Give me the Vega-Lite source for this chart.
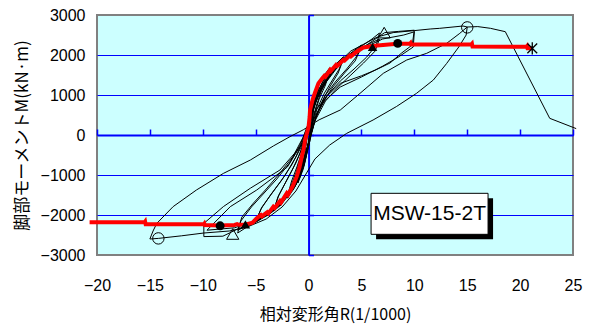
{
"$schema":"https://vega.github.io/schema/vega-lite/v6.json",
"width":476,"height":240,
"autosize":{"type":"none"},
"padding":{"left":97,"top":15,"right":18,"bottom":77},
"background":"white",
"config":{"view":{"fill":"#CCFFFF","stroke":"#808080","strokeWidth":2},
 "axis":{"labelFont":"Liberation Sans","labelFontSize":16,"labelColor":"#000","titleColor":"#000","titleFontWeight":"normal"}},
"resolve":{"axis":{"x":"independent","y":"independent"}},
"datasets":{
"loop":[
{"i":1,"x":0,"y":0},{"i":2,"x":0.1,"y":250},{"i":3,"x":0.3,"y":600},{"i":4,"x":0.5,"y":850},{"i":5,"x":0.4,"y":600},{"i":6,"x":0.2,"y":250},{"i":7,"x":0.05,"y":-50},{"i":8,"x":-0.1,"y":-300},{"i":9,"x":-0.3,"y":-600},{"i":10,"x":-0.5,"y":-800},
{"i":11,"x":-0.4,"y":-550},{"i":12,"x":-0.2,"y":-200},{"i":13,"x":-0.05,"y":100},{"i":14,"x":0.15,"y":450},{"i":15,"x":0.5,"y":950},{"i":16,"x":1,"y":1300},{"i":17,"x":0.8,"y":1000},{"i":18,"x":0.5,"y":650},{"i":19,"x":0.25,"y":250},{"i":20,"x":0.05,"y":-150},
{"i":21,"x":-0.2,"y":-500},{"i":22,"x":-0.5,"y":-850},{"i":23,"x":-1,"y":-1200},{"i":24,"x":-0.8,"y":-900},{"i":25,"x":-0.5,"y":-500},{"i":26,"x":-0.25,"y":-150},{"i":27,"x":0,"y":200},{"i":28,"x":0.3,"y":650},{"i":29,"x":0.7,"y":1100},{"i":30,"x":1.2,"y":1400},
{"i":31,"x":2,"y":1680},{"i":32,"x":1.7,"y":1400},{"i":33,"x":1.2,"y":1100},{"i":34,"x":0.7,"y":700},{"i":35,"x":0.3,"y":250},{"i":36,"x":0.05,"y":-150},{"i":37,"x":-0.3,"y":-600},{"i":38,"x":-0.8,"y":-1050},{"i":39,"x":-1.4,"y":-1350},{"i":40,"x":-2,"y":-1580},
{"i":41,"x":-1.7,"y":-1300},{"i":42,"x":-1.2,"y":-950},{"i":43,"x":-0.7,"y":-550},{"i":44,"x":-0.3,"y":-150},{"i":45,"x":0,"y":250},{"i":46,"x":0.4,"y":750},{"i":47,"x":1,"y":1150},{"i":48,"x":1.5,"y":1400},{"i":49,"x":2,"y":1620},{"i":50,"x":1.6,"y":1250},
{"i":51,"x":1,"y":900},{"i":52,"x":0.5,"y":450},{"i":53,"x":0.15,"y":0},{"i":54,"x":-0.2,"y":-450},{"i":55,"x":-0.7,"y":-950},{"i":56,"x":-1.3,"y":-1300},{"i":57,"x":-2,"y":-1530},{"i":58,"x":-1.6,"y":-1150},{"i":59,"x":-1.1,"y":-800},{"i":60,"x":-0.6,"y":-400},
{"i":61,"x":-0.2,"y":0},{"i":62,"x":0.2,"y":500},{"i":63,"x":0.8,"y":1050},{"i":64,"x":1.5,"y":1420},{"i":65,"x":2.3,"y":1700},{"i":66,"x":3.3,"y":1960},{"i":67,"x":2.9,"y":1650},{"i":68,"x":2.2,"y":1350},{"i":69,"x":1.5,"y":1050},{"i":70,"x":0.8,"y":650},
{"i":71,"x":0.3,"y":200},{"i":72,"x":0,"y":-200},{"i":73,"x":-0.4,"y":-650},{"i":74,"x":-1,"y":-1100},{"i":75,"x":-1.8,"y":-1450},{"i":76,"x":-2.5,"y":-1700},{"i":77,"x":-3.3,"y":-1900},{"i":78,"x":-2.9,"y":-1550},{"i":79,"x":-2.2,"y":-1200},{"i":80,"x":-1.5,"y":-850},
{"i":81,"x":-0.8,"y":-450},{"i":82,"x":-0.3,"y":-50},{"i":83,"x":0.1,"y":350},{"i":84,"x":0.6,"y":850},{"i":85,"x":1.3,"y":1250},{"i":86,"x":2.2,"y":1600},{"i":87,"x":3.3,"y":1900},{"i":88,"x":2.8,"y":1550},{"i":89,"x":2,"y":1200},{"i":90,"x":1.3,"y":850},
{"i":91,"x":0.7,"y":450},{"i":92,"x":0.2,"y":0},{"i":93,"x":-0.2,"y":-400},{"i":94,"x":-0.8,"y":-900},{"i":95,"x":-1.6,"y":-1350},{"i":96,"x":-2.5,"y":-1680},{"i":97,"x":-3.3,"y":-1870},{"i":98,"x":-2.8,"y":-1500},{"i":99,"x":-2,"y":-1100},{"i":100,"x":-1.2,"y":-700},
{"i":101,"x":-0.5,"y":-250},{"i":102,"x":0,"y":200},{"i":103,"x":0.5,"y":700},{"i":104,"x":1.2,"y":1200},{"i":105,"x":2.2,"y":1600},{"i":106,"x":3.5,"y":1950},{"i":107,"x":5,"y":2250},{"i":108,"x":4.5,"y":1950},{"i":109,"x":3.6,"y":1650},{"i":110,"x":2.6,"y":1350},
{"i":111,"x":1.6,"y":1000},{"i":112,"x":0.8,"y":550},{"i":113,"x":0.3,"y":50},{"i":114,"x":-0.1,"y":-400},{"i":115,"x":-0.7,"y":-900},{"i":116,"x":-1.5,"y":-1350},{"i":117,"x":-2.6,"y":-1750},{"i":118,"x":-3.8,"y":-2000},{"i":119,"x":-5,"y":-2170},{"i":120,"x":-4.5,"y":-1850},
{"i":121,"x":-3.6,"y":-1500},{"i":122,"x":-2.6,"y":-1150},{"i":123,"x":-1.6,"y":-750},{"i":124,"x":-0.7,"y":-300},{"i":125,"x":-0.1,"y":150},{"i":126,"x":0.4,"y":650},{"i":127,"x":1.2,"y":1150},{"i":128,"x":2.3,"y":1600},{"i":129,"x":3.6,"y":1950},{"i":130,"x":5,"y":2200},
{"i":131,"x":4.4,"y":1850},{"i":132,"x":3.4,"y":1550},{"i":133,"x":2.3,"y":1200},{"i":134,"x":1.3,"y":800},{"i":135,"x":0.5,"y":300},{"i":136,"x":0,"y":-200},{"i":137,"x":-0.6,"y":-800},{"i":138,"x":-1.5,"y":-1300},{"i":139,"x":-2.7,"y":-1750},{"i":140,"x":-3.9,"y":-2000},
{"i":141,"x":-5,"y":-2150},{"i":142,"x":-4.4,"y":-1800},{"i":143,"x":-3.3,"y":-1400},{"i":144,"x":-2.2,"y":-1000},{"i":145,"x":-1.2,"y":-550},{"i":146,"x":-0.4,"y":-50},{"i":147,"x":0.2,"y":450},{"i":148,"x":1,"y":1050},{"i":149,"x":2.2,"y":1550},{"i":150,"x":3.6,"y":1950},
{"i":151,"x":5,"y":2220},{"i":152,"x":6,"y":2400},{"i":153,"x":6.7,"y":2550},{"i":154,"x":6.4,"y":2250},{"i":155,"x":5.5,"y":1950},{"i":156,"x":4.3,"y":1650},{"i":157,"x":3,"y":1350},{"i":158,"x":1.8,"y":1000},{"i":159,"x":0.8,"y":550},{"i":160,"x":0.2,"y":0},
{"i":161,"x":-0.3,"y":-500},{"i":162,"x":-1,"y":-1050},{"i":163,"x":-2,"y":-1500},{"i":164,"x":-3.3,"y":-1850},{"i":165,"x":-4.8,"y":-2150},{"i":166,"x":-6,"y":-2330},{"i":167,"x":-6.7,"y":-2450},{"i":168,"x":-6.4,"y":-2150},{"i":169,"x":-5.4,"y":-1800},{"i":170,"x":-4.2,"y":-1450},
{"i":171,"x":-3,"y":-1100},{"i":172,"x":-1.8,"y":-700},{"i":173,"x":-0.8,"y":-250},{"i":174,"x":-0.1,"y":200},{"i":175,"x":0.6,"y":800},{"i":176,"x":1.6,"y":1300},{"i":177,"x":2.9,"y":1750},{"i":178,"x":4.3,"y":2050},{"i":179,"x":5.5,"y":2250},{"i":180,"x":6.7,"y":2400},
{"i":181,"x":6.3,"y":2100},{"i":182,"x":5.2,"y":1800},{"i":183,"x":4,"y":1500},{"i":184,"x":2.8,"y":1200},{"i":185,"x":1.6,"y":850},{"i":186,"x":0.6,"y":350},{"i":187,"x":0,"y":-200},{"i":188,"x":-0.7,"y":-800},{"i":189,"x":-1.7,"y":-1350},{"i":190,"x":-3,"y":-1800},
{"i":191,"x":-4.5,"y":-2100},{"i":192,"x":-5.8,"y":-2270},{"i":193,"x":-6.7,"y":-2380},{"i":194,"x":-6.3,"y":-2050},{"i":195,"x":-5.2,"y":-1700},{"i":196,"x":-4,"y":-1350},{"i":197,"x":-2.7,"y":-950},{"i":198,"x":-1.5,"y":-550},{"i":199,"x":-0.5,"y":-50},{"i":200,"x":0.2,"y":450},
{"i":201,"x":1,"y":1050},{"i":202,"x":2.3,"y":1600},{"i":203,"x":3.8,"y":1950},{"i":204,"x":5.5,"y":2250},{"i":205,"x":7.2,"y":2560},{"i":206,"x":8.5,"y":2590},{"i":207,"x":10,"y":2620},{"i":208,"x":9.8,"y":2250},{"i":209,"x":8.8,"y":2050},{"i":210,"x":7.7,"y":1800},
{"i":211,"x":6.3,"y":1620},{"i":212,"x":5,"y":1480},{"i":213,"x":3,"y":1290},{"i":214,"x":1.7,"y":960},{"i":215,"x":0.45,"y":540},{"i":216,"x":0.14,"y":-125},{"i":217,"x":-0.4,"y":-750},{"i":218,"x":-1.2,"y":-1250},{"i":219,"x":-2.2,"y":-1600},{"i":220,"x":-3.6,"y":-1950},
{"i":221,"x":-5.2,"y":-2200},{"i":222,"x":-6.7,"y":-2350},{"i":223,"x":-8.1,"y":-2530},{"i":224,"x":-9.9,"y":-2540},{"i":225,"x":-9.9,"y":-2210},{"i":226,"x":-8.05,"y":-1790},{"i":227,"x":-5.5,"y":-1330},{"i":228,"x":-2.7,"y":-875},{"i":229,"x":-0.5,"y":-210},{"i":230,"x":0.1,"y":250},
{"i":231,"x":0.6,"y":800},{"i":232,"x":1.5,"y":1300},{"i":233,"x":3,"y":1800},{"i":234,"x":5,"y":2150},{"i":235,"x":7,"y":2400},{"i":236,"x":9,"y":2500},{"i":237,"x":10,"y":2580},{"i":238,"x":9.9,"y":2200},{"i":239,"x":8.5,"y":1950},{"i":240,"x":7,"y":1720},
{"i":241,"x":5,"y":1450},{"i":242,"x":3,"y":1200},{"i":243,"x":1.5,"y":850},{"i":244,"x":0.4,"y":350},{"i":245,"x":0,"y":-200},{"i":246,"x":-0.6,"y":-800},{"i":247,"x":-1.5,"y":-1300},{"i":248,"x":-3,"y":-1800},{"i":249,"x":-5,"y":-2150},{"i":250,"x":-7,"y":-2320},
{"i":251,"x":-9.6,"y":-2380},{"i":252,"x":-7.4,"y":-1792},{"i":253,"x":-4.9,"y":-1375},{"i":254,"x":-2,"y":-800},{"i":255,"x":-0.6,"y":-200},{"i":256,"x":0.1,"y":300},{"i":257,"x":0.8,"y":1000},{"i":258,"x":2,"y":1600},{"i":259,"x":4,"y":2100},{"i":260,"x":6.5,"y":2450},
{"i":261,"x":8,"y":2560},{"i":262,"x":10,"y":2610},{"i":263,"x":11.5,"y":2650},{"i":264,"x":12.4,"y":2667},{"i":265,"x":14.6,"y":2725},{"i":266,"x":15,"y":2700},{"i":267,"x":14.9,"y":2500},{"i":268,"x":14.2,"y":2200},{"i":269,"x":13.06,"y":1790},{"i":270,"x":11.8,"y":1375},
{"i":271,"x":10.2,"y":1040},{"i":272,"x":8.3,"y":710},{"i":273,"x":6.1,"y":375},{"i":274,"x":3.6,"y":40},{"i":275,"x":2,"y":-250},{"i":276,"x":0.6,"y":-600},{"i":277,"x":-0.3,"y":-1000},{"i":278,"x":-1.2,"y":-1400},{"i":279,"x":-2.5,"y":-1800},{"i":280,"x":-4,"y":-2100},
{"i":281,"x":-5.8,"y":-2300},{"i":282,"x":-7.5,"y":-2400},{"i":283,"x":-9.9,"y":-2450},{"i":284,"x":-12,"y":-2520},{"i":285,"x":-14.2,"y":-2585},{"i":286,"x":-15,"y":-2600},{"i":287,"x":-14.7,"y":-2400},{"i":288,"x":-14.35,"y":-2210},{"i":289,"x":-12.8,"y":-1790},{"i":290,"x":-10.6,"y":-1375},
{"i":291,"x":-8.05,"y":-960},{"i":292,"x":-5.5,"y":-625},{"i":293,"x":-3.3,"y":-270},{"i":294,"x":-1.75,"y":-40},{"i":295,"x":-0.5,"y":130},{"i":296,"x":1,"y":380},{"i":297,"x":3,"y":625},{"i":298,"x":4.87,"y":1042},{"i":299,"x":7.07,"y":1542},{"i":300,"x":9.28,"y":1875},
{"i":301,"x":11.17,"y":2042},{"i":302,"x":13.06,"y":2292},{"i":303,"x":14.3,"y":2542},{"i":304,"x":15,"y":2700},{"i":305,"x":16,"y":2710},{"i":306,"x":17.2,"y":2667},{"i":307,"x":18.6,"y":2583},{"i":308,"x":22.8,"y":417},{"i":309,"x":25.3,"y":160}
],
"env":[
{"i":1,"x":-20.7,"y":-2183},{"i":2,"x":-15.5,"y":-2183},{"i":3,"x":-15.45,"y":-2165},{"i":4,"x":-15.4,"y":-2233},{"i":5,"x":-9.9,"y":-2233},{"i":6,"x":-9.85,"y":-2215},{"i":7,"x":-9.8,"y":-2250},{"i":8,"x":-8.4,"y":-2260},{"i":9,"x":-7,"y":-2250},{"i":10,"x":-6.75,"y":-2230},
{"i":11,"x":-6.6,"y":-2245},{"i":12,"x":-5.9,"y":-2235},{"i":13,"x":-5.3,"y":-2190},{"i":14,"x":-4.9,"y":-2083},{"i":15,"x":-4.5,"y":-2000},{"i":16,"x":-4.4,"y":-2030},{"i":17,"x":-3.9,"y":-1930},{"i":18,"x":-3.8,"y":-1960},{"i":19,"x":-3.33,"y":-1792},{"i":20,"x":-3.2,"y":-1825},
{"i":21,"x":-2.7,"y":-1650},{"i":22,"x":-2.6,"y":-1685},{"i":23,"x":-2.06,"y":-1458},{"i":24,"x":-1.95,"y":-1495},{"i":25,"x":-1.5,"y":-1280},{"i":26,"x":-1.12,"y":-1042},{"i":27,"x":-0.85,"y":-800},{"i":28,"x":-0.64,"y":-542},{"i":29,"x":-0.45,"y":-330},{"i":30,"x":-0.33,"y":-125},
{"i":31,"x":-0.15,"y":50},{"i":32,"x":0,"y":200},{"i":33,"x":0.1,"y":450},{"i":34,"x":0.14,"y":625},{"i":35,"x":0.4,"y":900},{"i":36,"x":0.6,"y":1050},{"i":37,"x":0.93,"y":1290},{"i":38,"x":1.3,"y":1420},{"i":39,"x":1.5,"y":1480},{"i":40,"x":1.6,"y":1460},
{"i":41,"x":2.03,"y":1625},{"i":42,"x":2.1,"y":1600},{"i":43,"x":2.6,"y":1750},{"i":44,"x":2.7,"y":1725},{"i":45,"x":3.29,"y":1875},{"i":46,"x":3.4,"y":1860},{"i":47,"x":3.9,"y":1985},{"i":48,"x":4,"y":1965},{"i":49,"x":4.55,"y":2083},{"i":50,"x":5.2,"y":2190},
{"i":51,"x":5.8,"y":2215},{"i":52,"x":6.5,"y":2240},{"i":53,"x":8.4,"y":2280},{"i":54,"x":9.6,"y":2285},{"i":55,"x":9.65,"y":2300},{"i":56,"x":9.7,"y":2265},{"i":57,"x":15.4,"y":2265},{"i":58,"x":15.45,"y":2280},{"i":59,"x":15.5,"y":2210},{"i":60,"x":20.6,"y":2205},
{"i":61,"x":20.65,"y":2220},{"i":62,"x":20.7,"y":2170},{"i":63,"x":21.15,"y":2167}
],
"pts":[
{"kind":"oc","x":15.0,"y":2690},{"kind":"oc","x":-14.2,"y":-2585},
{"kind":"ot","x":7.15,"y":2560},{"kind":"ot","x":-7.17,"y":-2475},
{"kind":"fc","x":8.43,"y":2290},{"kind":"fc","x":-8.36,"y":-2270},
{"kind":"ft","x":6.05,"y":2200},{"kind":"ft","x":-5.97,"y":-2233},
{"kind":"as","x":21.15,"y":2167}
]
},
"layer":[
{"data":{"name":"loop"},
 "mark":{"type":"line","color":"#000000","strokeWidth":1},
 "encoding":{
  "x":{"field":"x","type":"quantitative","scale":{"domain":[-20,25],"nice":false,"zero":false},
   "axis":{"orient":"bottom","values":[-20,-15,-10,-5,0,5,10,15,20,25],"format":"d","ticks":false,"tickSize":0,"domain":false,"grid":false,"labelFlush":false,"labelPadding":22,
    "title":"相対変形角R(1/1000)","titleFont":"Noto Sans CJK JP","titleFontSize":16,"titleX":238,"titleY":59,"titleAlign":"center","titleBaseline":"middle","zindex":0}},
  "y":{"field":"y","type":"quantitative","scale":{"domain":[-3000,3000],"nice":false,"zero":false},
   "axis":{"values":[-3000,-2000,-1000,0,1000,2000,3000],"format":"d","ticks":false,"tickSize":0,"domain":false,"labelPadding":12,
    "grid":true,"gridColor":{"condition":{"test":"abs(datum.value) >= 3000","value":"#808080"},"value":"#0000FF"},"gridWidth":1,"gridOpacity":1,
    "title":"脚部モーメントM(kN·m)","titleFont":"Noto Sans CJK JP","titleFontSize":17,"titleX":-75,"titleY":120,"titleAngle":-90,"titleAlign":"center","titleBaseline":"middle","zindex":0}},
  "order":{"field":"i","type":"quantitative"}}},
{"data":{"name":"env"},
 "mark":{"type":"line","color":"#FF0000","strokeWidth":4},
 "encoding":{
  "x":{"field":"x","type":"quantitative",
   "axis":{"orient":"bottom","offset":-120,"values":[-20,-15,-10,-5,0,5,10,15,20,25],"labels":false,"domain":true,"domainColor":"#0000FF","domainWidth":2,"ticks":true,"tickColor":"#0000FF","tickSize":-6,"tickWidth":1.5,"grid":false,"title":null,"zindex":0}},
  "y":{"field":"y","type":"quantitative",
   "axis":{"orient":"left","offset":-211.56,"values":[-3000,-2000,-1000,0,1000,2000,3000],"labels":false,"domain":true,"domainColor":"#0000FF","domainWidth":2,"ticks":true,"tickColor":"#0000FF","tickSize":-5,"tickWidth":1.5,"grid":false,"title":null,"zindex":0}},
  "order":{"field":"i","type":"quantitative"}}},
{"data":{"name":"pts"},"transform":[{"filter":"datum.kind === 'oc'"}],
 "mark":{"type":"point","shape":"circle","filled":false,"stroke":"#000000","strokeWidth":1,"size":130,"opacity":1},
 "encoding":{"x":{"field":"x","type":"quantitative","axis":null},"y":{"field":"y","type":"quantitative","axis":null}}},
{"data":{"name":"pts"},"transform":[{"filter":"datum.kind === 'ot'"}],
 "mark":{"type":"point","shape":"triangle-up","filled":false,"stroke":"#000000","strokeWidth":1,"size":150,"opacity":1},
 "encoding":{"x":{"field":"x","type":"quantitative","axis":null},"y":{"field":"y","type":"quantitative","axis":null}}},
{"data":{"name":"pts"},"transform":[{"filter":"datum.kind === 'fc'"}],
 "mark":{"type":"point","shape":"circle","filled":true,"fill":"#000000","size":80,"opacity":1},
 "encoding":{"x":{"field":"x","type":"quantitative","axis":null},"y":{"field":"y","type":"quantitative","axis":null}}},
{"data":{"name":"pts"},"transform":[{"filter":"datum.kind === 'ft'"}],
 "mark":{"type":"point","shape":"triangle-up","filled":true,"fill":"#000000","size":90,"opacity":1},
 "encoding":{"x":{"field":"x","type":"quantitative","axis":null},"y":{"field":"y","type":"quantitative","axis":null}}},
{"data":{"name":"pts"},"transform":[{"filter":"datum.kind === 'as'"}],
 "mark":{"type":"point","shape":"M-0.8,-0.8L0.8,0.8M0.8,-0.8L-0.8,0.8M0,-1L0,1","filled":false,"stroke":"#000000","strokeWidth":1.3,"size":150,"opacity":1},
 "encoding":{"x":{"field":"x","type":"quantitative","axis":null},"y":{"field":"y","type":"quantitative","axis":null}}},
{"data":{"values":[{}]},
 "mark":{"type":"rect","fill":"#000000","xOffset":5,"x2Offset":5,"yOffset":5,"y2Offset":5},
 "encoding":{"x":{"datum":5.91,"type":"quantitative","axis":null},"x2":{"datum":16.97},"y":{"datum":-1458,"type":"quantitative","axis":null},"y2":{"datum":-2483}}},
{"data":{"values":[{}]},
 "mark":{"type":"rect","fill":"#FFFFFF","stroke":"#000000","strokeWidth":1},
 "encoding":{"x":{"datum":5.91,"type":"quantitative","axis":null},"x2":{"datum":16.97},"y":{"datum":-1458,"type":"quantitative","axis":null},"y2":{"datum":-2483}}},
{"data":{"values":[{}]},
 "mark":{"type":"text","text":"MSW-15-2T","font":"Liberation Sans","fontSize":21,"align":"center","baseline":"middle","color":"#000000"},
 "encoding":{"x":{"datum":11.44,"type":"quantitative","axis":null},"y":{"datum":-1970,"type":"quantitative","axis":null}}}
]
}
